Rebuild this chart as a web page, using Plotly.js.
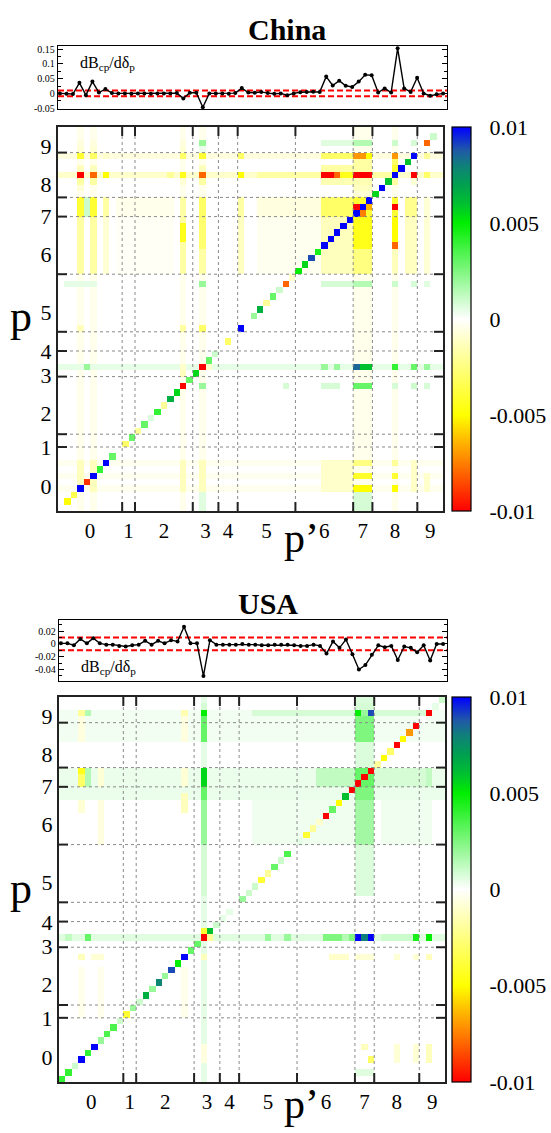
<!DOCTYPE html>
<html><head><meta charset="utf-8">
<script src="https://cdn.plot.ly/plotly-3.0.1.min.js"></script>
<style>html,body{margin:0;padding:0;background:#fff}#chart{width:551px;height:1133px}</style>
</head><body><div id="chart"></div>
<script>
// ---------------- data ----------------
const N_PRODUCTS = 60;
const categoryLabels = ['0','1','2','3','4','5','6','7','8','9'];
const categoryBoundaries = [10,12,21,25,28,37,46,49,56];
const xLabelPos = [4.5,10.5,16,22.5,26,32,41,47,52,57.5];
const yLabelPos = [3.3,9.5,14.7,20.7,24.4,30.6,39.6,45.6,50.6,56.5];
const colorbarTicks = [-0.01,-0.005,0,0.005,0.01];
const colorbarTickText = ['-0.01','-0.005','0','0.005','0.01'];
const colorbarDashes = [-0.005,0,0.005];
const sensitivityBand = [0.01,-0.01];

const chinaLineTicks = [-0.05,0,0.05,0.1,0.15];
const chinaLineTickText = ['-0.05','0','0.05','0.1','0.15'];
const usaLineTicks = [-0.04,-0.02,0,0.02];
const usaLineTickText = ['-0.04','-0.02','0','0.02'];

const chinaLine = [
 0.000,-0.001,-0.002, 0.036,-0.006, 0.040, 0.003, 0.015, 0.001, 0.000,
 0.000,-0.001, 0.000, 0.000,-0.001, 0.000, 0.000, 0.000, 0.001,-0.017,
 0.002, 0.002,-0.047, 0.000, 0.000, 0.000,-0.001, 0.001, 0.018, 0.003,
 0.002, 0.005, 0.001,-0.001, 0.000,-0.006, 0.000, 0.004, 0.005, 0.006,
 0.005, 0.057, 0.027, 0.043, 0.026, 0.022, 0.040, 0.063, 0.062, 0.003,
 0.017, 0.003, 0.153, 0.017, 0.005, 0.053, 0.000,-0.008,-0.003, 0.000];

const usaLine = [
 0.001, 0.001,-0.002, 0.008, 0.001, 0.009, 0.001,-0.001,-0.001,-0.003,
-0.004,-0.002,-0.001, 0.005,-0.001, 0.005, 0.001, 0.006, 0.004, 0.027,
 0.001, 0.001,-0.050, 0.006,-0.001,-0.001,-0.001,-0.001, 0.000,-0.001,
-0.001,-0.002,-0.002,-0.001,-0.001,-0.001,-0.002,-0.003,-0.003,-0.001,
-0.003,-0.015, 0.004,-0.006, 0.007,-0.016,-0.040,-0.033,-0.017,-0.002,
-0.005,-0.003,-0.025,-0.004,-0.006,-0.013,-0.002,-0.026, 0.000, 0.000];

const chinaDiag = [
 0,-0.005,-0.0035,0.01,-0.009,0.01,0.004,0.01,0.003,0,
 -0.003,0.003,-0.002,0.003,0.0007,0.004,-0.002,0.0065,0.0055,-0.01,
 0.003,0.0055,-0.01,0.003,0.001,0,-0.003,0,0.01,0,
 0.002,0.0065,-0.002,0.003,0.001,-0.008,-0.001,0.005,0.0055,0.009,
 0.0045,0.01,0.01,0.01,0.01,0.01,0.01,0.01,0.01,0.0055,
 0.01,0.006,0.01,0.01,0.006,0.01,0,-0.008,0.001,0];

const usaDiag = [
 0.004,0.004,0.001,0.01,0.004,0.01,0.002,0.0035,0.0035,0.001,
 -0.004,0.002,0.001,0.0065,0.002,0.0078,0.002,0.009,0.005,0.01,
 0.003,0.003,-0.01,0.006,0.001,0.0005,0.0005,0,0.002,0.001,
 0.001,-0.004,-0.002,0.003,0.001,0.0035,0,0.0005,-0.004,-0.002,
 -0.001,-0.01,0.003,-0.005,0.006,-0.01,-0.01,-0.01,-0.01,-0.002,
 -0.005,-0.003,-0.01,-0.005,-0.007,-0.01,0,-0.01,0.0005,0.001];

// off-diagonal regions: [rowFrom, rowTo, colFrom, colTo, value]
const chinaBlocks = [
 [0,59,3,3,-0.0004],[0,59,5,5,-0.0004],[0,59,19,19,-0.0004],[0,59,22,22,-0.0004],
 [0,59,46,48,-0.0004],[0,59,52,52,-0.0004],
 [0,2,22,22,0.0006],[0,2,46,48,0.0008],
 [3,3,0,59,-0.0003],[5,5,0,59,-0.0003],[7,7,0,59,-0.0003],
 [3,7,3,3,-0.0013],[3,7,5,5,-0.0013],[3,7,19,19,-0.0013],[3,7,22,22,-0.0013],[3,7,41,45,-0.001],[3,7,55,55,-0.0011],[3,5,57,57,-0.001],
 [3,3,46,48,-0.005],[5,5,46,48,-0.0042],[7,7,46,48,-0.0025],
 [3,3,52,52,-0.005],[5,5,52,52,-0.004],[7,7,52,52,-0.002],
 [19,19,22,22,0.002],[19,19,41,43,0.0008],[19,19,46,48,0.003],[19,19,35,35,0.0008],[19,19,52,52,0.0008],[19,19,55,55,0.001],[19,19,57,57,0.0008],
 [21,21,19,19,-0.0013],
 [22,22,0,59,0.0005],[22,22,4,4,0.002],[22,22,19,19,-0.001],[22,22,23,23,-0.001],[22,22,41,41,0.002],[22,22,43,43,0.002],[22,22,46,46,0.0085],[22,22,47,48,0.006],[22,22,52,52,0.004],[22,22,55,55,0.003],[22,22,57,57,0.002],
 [28,28,3,3,-0.0013],[28,28,19,19,-0.0018],[28,28,22,22,-0.003],
 [35,35,1,5,0.0005],[35,35,22,22,0.002],[35,35,41,45,0.0008],[35,35,46,48,0.0015],[35,35,52,52,0.001],[35,35,55,55,0.0008],[35,35,57,57,0.0006],
 [37,45,3,3,-0.0018],[37,45,5,5,-0.0018],[37,45,7,7,-0.0008],[37,45,9,17,-0.0002],[37,45,19,19,-0.0018],[37,45,22,22,-0.0018],[37,45,28,28,-0.0012],[37,45,31,40,-0.0003],[37,45,41,45,-0.0013],[37,45,46,48,-0.0025],[37,45,52,52,-0.0013],[37,45,54,55,-0.0012],[37,45,57,57,-0.0008],
 [42,44,19,19,-0.0045],[41,45,46,48,-0.0045],[42,45,52,52,-0.005],[41,41,52,52,-0.008],[41,45,22,22,-0.0028],
 [46,48,3,3,-0.004],[46,48,4,4,0.001],[46,48,5,5,-0.004],[46,48,7,7,-0.0018],[46,48,9,17,-0.0004],[46,48,19,19,-0.0018],[46,48,22,22,-0.003],[46,48,28,28,-0.0018],[46,48,31,40,-0.0006],[46,48,41,45,-0.003],[46,48,46,48,-0.004],[46,48,52,52,-0.004],[46,48,54,55,-0.0022],[46,48,57,57,-0.0008],
 [47,47,46,46,-0.01],[46,46,47,47,-0.0075],[47,47,48,48,-0.0065],[47,47,52,52,-0.01],
 [49,49,46,48,-0.0008],[50,50,46,48,-0.0012],[50,50,3,3,-0.0008],
 [51,51,3,3,-0.0018],[51,51,5,5,-0.0018],[51,51,19,19,-0.0008],[51,51,22,22,-0.0018],[51,51,41,48,-0.0015],[51,51,52,52,-0.0018],[51,51,55,55,-0.0008],
 [52,52,0,59,-0.001],[52,52,3,3,-0.01],[52,52,5,5,-0.008],[52,52,7,7,-0.005],[52,52,17,17,-0.002],[52,52,19,19,-0.0045],[52,52,22,22,-0.008],[52,52,28,28,-0.005],[52,52,31,40,-0.0018],[52,52,41,42,-0.01],[52,52,43,43,-0.008],[52,52,44,45,-0.0045],[52,52,46,48,-0.01],[52,52,49,51,-0.0018],[52,52,55,55,-0.01],[52,52,57,57,-0.003],
 [53,53,3,3,-0.0013],[53,53,5,5,-0.0013],[53,53,22,22,-0.0013],[53,53,41,48,-0.0018],[53,53,52,52,-0.004],
 [54,54,46,48,-0.0018],[54,54,52,52,-0.003],
 [55,55,0,59,-0.0006],[55,55,3,3,-0.004],[55,55,5,5,-0.003],[55,55,7,7,-0.001],[55,55,19,19,-0.003],[55,55,22,22,-0.004],[55,55,28,28,-0.003],[55,55,41,45,-0.003],[55,55,46,47,-0.007],[55,55,48,48,-0.005],[55,55,52,52,-0.007],[55,55,57,57,-0.002],
 [56,56,3,3,-0.0008],[56,56,5,5,-0.0008],[56,56,19,19,-0.0008],[56,56,22,22,0.0004],
 [57,57,3,3,-0.0006],[57,57,5,5,-0.0006],[57,57,19,19,-0.0006],[57,57,22,22,0.002],[57,57,41,45,0.0006],[57,57,46,48,0.0015],[57,57,52,52,0.001],[57,57,55,55,0.0008]
];

const usaBlocks = [
 [0,59,22,22,0.0005],[29,59,46,48,0.0007],[53,57,0,59,0.00025],[44,48,0,59,0.0004],
 [57,57,3,3,-0.002],[57,57,4,4,0.0015],[57,57,19,19,-0.0015],[57,57,22,22,0.005],[57,57,30,45,0.0008],[57,57,46,46,0.005],[57,57,47,47,0.002],[57,57,48,48,0.009],[57,57,49,56,0.0008],
 [53,56,22,22,0.003],[53,56,46,48,0.0025],[53,56,3,3,-0.0006],[53,56,19,19,-0.0006],
 [58,58,22,22,0.0008],[58,58,46,48,0.0008],
 [46,48,3,3,-0.003],[48,48,3,3,-0.0045],[46,48,4,4,0.0015],[46,48,6,6,-0.0008],[46,48,19,19,-0.0008],[46,48,22,22,0.0055],[46,48,40,45,0.0012],[46,48,46,48,0.003],[46,48,49,56,0.0008],[46,48,57,57,0.0012],
 [44,45,22,22,0.003],[44,45,46,48,0.0025],
 [37,43,22,22,0.002],[37,43,46,48,0.0018],[37,43,30,45,0.0003],[37,43,50,57,0.0003],[42,44,19,19,-0.0013],[42,43,3,3,-0.0008],[37,43,6,6,-0.0006],
 [29,36,22,22,0.0008],
 [22,22,0,59,0.0006],[22,22,1,1,0.0012],[22,22,4,4,0.003],[22,22,23,23,-0.002],[22,22,32,32,0.002],[22,22,35,35,0.002],[22,22,41,43,0.0025],[22,22,44,44,0.0015],[22,22,45,45,0.0025],[22,22,46,46,0.01],[22,22,47,47,0.008],[22,22,48,48,0.01],[22,22,50,54,0.001],[22,22,55,55,0.0045],[22,22,57,57,0.005],
 [23,23,22,22,-0.004],
 [19,19,3,3,-0.0013],[19,19,5,6,-0.0008],[19,19,19,19,-0.0008],[19,19,22,22,-0.0013],[19,19,42,44,-0.001],[19,19,46,48,-0.0008],[19,19,52,52,-0.0008],[19,19,55,55,-0.0008],[19,19,57,57,-0.0013],
 [10,17,3,3,-0.0004],[10,17,6,6,-0.0004],[10,17,19,19,-0.0004],
 [3,5,22,22,-0.0006],[5,5,47,47,-0.0013],[3,3,48,48,-0.003],[3,5,52,52,-0.0008],[3,5,55,55,-0.0008],[3,5,57,57,-0.0013],
 [1,1,46,48,0.0006]
];

// ---------------- build ----------------
const W = 551, H = 1133;
const FONT = 'Liberation Serif, Times New Roman, serif';
const fx = p => p / W;
const fy = p => 1 - p / H;
const productIdx = Array.from({length: N_PRODUCTS}, (_, i) => i);

function buildMatrix(diag, blocks) {
  const z = productIdx.map(() => new Array(N_PRODUCTS).fill(0));
  blocks.forEach(([r0, r1, c0, c1, v]) => {
    for (let r = r0; r <= r1; r++) for (let c = c0; c <= c1; c++) z[r][c] = v;
  });
  diag.forEach((v, i) => { z[i][i] = v; });
  return z;
}

const colorscale = [
  [0, '#ff0000'], [0.12, '#ff7a00'], [0.19, '#ffc000'], [0.25, '#ffff00'],
  [0.5, '#ffffff'],
  [0.75, '#00ee00'], [0.8, '#00c030'], [0.85, '#00a050'], [0.9, '#10807a'],
  [0.94, '#2058a8'], [1, '#0000ff']
];

const panels = [
  {title: 'China', titleX: 287, titleY: 29, line: chinaLine, diag: chinaDiag, blocks: chinaBlocks,
   lineL: 58, lineR: 447, lineT: 46, lineB: 109, yRange: [-0.053, 0.161],
   yTicks: chinaLineTicks, yTickText: chinaLineTickText, yMinor: 0.025,
   annY: 63, heatL: 58, heatR: 443, heatT: 127, heatB: 511,
   pY: 316, pxY: 538},
  {title: 'USA', titleX: 268, titleY: 603, line: usaLine, diag: usaDiag, blocks: usaBlocks,
   lineL: 59, lineR: 447, lineT: 620, lineB: 681, yRange: [-0.058, 0.0376],
   yTicks: usaLineTicks, yTickText: usaLineTickText, yMinor: 0.01,
   annY: 667, heatL: 59, heatR: 445, heatT: 697, heatB: 1082,
   pY: 888, pxY: 1104}
];

const traces = [];
const layout = {
  width: W, height: H, margin: {l: 0, r: 0, t: 0, b: 0},
  paper_bgcolor: '#fff', plot_bgcolor: '#fff', showlegend: false,
  font: {family: FONT, color: '#000'},
  shapes: [], annotations: []
};

panels.forEach((P, k) => {
  const lx = k === 0 ? '' : '3';
  const hx = k === 0 ? '2' : '4';
  traces.push({
    type: 'scatter', mode: 'lines+markers', x: productIdx, y: P.line,
    xaxis: 'x' + lx, yaxis: 'y' + lx,
    line: {color: '#000', width: 1.4}, marker: {color: '#000', size: 4},
    hoverinfo: 'skip'
  });
  layout['xaxis' + lx] = {
    domain: [fx(P.lineL), fx(P.lineR)], anchor: 'y' + lx, range: [-0.3, 59.6],
    showticklabels: false, ticks: '', showline: true, mirror: true,
    linecolor: '#000', linewidth: 1.2, showgrid: false, zeroline: false
  };
  layout['yaxis' + lx] = {
    domain: [fy(P.lineB), fy(P.lineT)], anchor: 'x' + lx, range: P.yRange,
    tickvals: P.yTicks, ticktext: P.yTickText, ticks: 'inside', ticklen: 5,
    tickwidth: 1, tickcolor: '#000', showline: true, mirror: 'ticks',
    linecolor: '#000', linewidth: 1.2, showgrid: false, zeroline: false,
    minor: {ticks: 'inside', ticklen: 3, dtick: P.yMinor, tick0: 0, tickcolor: '#000'},
    tickfont: {family: FONT, size: 10, color: '#000'}
  };
  sensitivityBand.forEach(v => layout.shapes.push({
    type: 'line', xref: 'x' + lx + ' domain', yref: 'y' + lx, x0: 0, x1: 1, y0: v, y1: v,
    line: {color: '#ff0000', width: 2, dash: '6px,3px'}, layer: 'below'
  }));
  layout.annotations.push({
    xref: 'paper', yref: 'paper', x: fx(P.lineL + 20), y: fy(P.annY), xanchor: 'left', yanchor: 'middle',
    text: 'dB<sub>cp</sub>/dδ<sub>p</sub>', showarrow: false, font: {family: FONT, size: 16, color: '#000'}
  });

  const cbTop = P.heatT, cbLen = P.heatB - P.heatT;
  traces.push({
    type: 'heatmap', x: productIdx, y: productIdx, z: buildMatrix(P.diag, P.blocks),
    xaxis: 'x' + hx, yaxis: 'y' + hx, zmin: -0.01, zmax: 0.01, colorscale: colorscale,
    hoverinfo: 'skip',
    colorbar: {
      x: fx(452), xanchor: 'left', y: fy(cbTop), yanchor: 'top',
      len: cbLen / H, lenmode: 'fraction', thickness: 19, thicknessmode: 'pixels',
      outlinewidth: 1.2, outlinecolor: '#000', xpad: 0, ypad: 0,
      tickvals: colorbarTicks, ticktext: colorbarTickText,
      ticks: 'outside', ticklen: 14, tickcolor: 'rgba(0,0,0,0)',
      tickfont: {family: FONT, size: 22, color: '#000'}
    }
  });
  layout['xaxis' + hx] = {
    domain: [fx(P.heatL), fx(P.heatR)], anchor: 'y' + hx, range: [-0.5, 59.5],
    tickvals: xLabelPos, ticktext: categoryLabels, ticks: '', showline: true, mirror: true,
    linecolor: '#222', linewidth: 2, showgrid: false, zeroline: false,
    tickfont: {family: FONT, size: 21, color: '#000'}
  };
  layout['yaxis' + hx] = {
    domain: [fy(P.heatB), fy(P.heatT)], anchor: 'x' + hx, range: [-0.5, 59.5],
    tickvals: yLabelPos, ticktext: categoryLabels, ticks: '', showline: true, mirror: true,
    linecolor: '#222', linewidth: 2, showgrid: false, zeroline: false,
    tickfont: {family: FONT, size: 22, color: '#000'}
  };
  const tickFracX = 9 / (P.heatB - P.heatT);
  const tickFracY = 9 / (P.heatR - P.heatL);
  categoryBoundaries.forEach(b => {
    const pos = b - 0.5;
    const dot = {color: '#8a8a8a', width: 1, dash: 'dot'};
    layout.shapes.push({type: 'line', xref: 'x' + hx, yref: 'y' + hx + ' domain', x0: pos, x1: pos, y0: 0, y1: 1, line: dot, layer: 'above'});
    layout.shapes.push({type: 'line', yref: 'y' + hx, xref: 'x' + hx + ' domain', y0: pos, y1: pos, x0: 0, x1: 1, line: dot, layer: 'above'});
    const tk = {color: '#222', width: 2};
    layout.shapes.push({type: 'line', xref: 'x' + hx, yref: 'y' + hx + ' domain', x0: pos, x1: pos, y0: 0, y1: tickFracX, line: tk});
    layout.shapes.push({type: 'line', xref: 'x' + hx, yref: 'y' + hx + ' domain', x0: pos, x1: pos, y0: 1 - tickFracX, y1: 1, line: tk});
    layout.shapes.push({type: 'line', yref: 'y' + hx, xref: 'x' + hx + ' domain', y0: pos, y1: pos, x0: 0, x1: tickFracY, line: tk});
    layout.shapes.push({type: 'line', yref: 'y' + hx, xref: 'x' + hx + ' domain', y0: pos, y1: pos, x0: 1 - tickFracY, x1: 1, line: tk});
  });
  colorbarDashes.forEach(v => {
    const ypx = cbTop + (0.01 - v) / 0.02 * cbLen;
    layout.shapes.push({type: 'line', xref: 'paper', yref: 'paper', x0: fx(452), x1: fx(471), y0: fy(ypx), y1: fy(ypx),
      line: {color: '#000', width: 1, dash: '6px,7px'}});
  });
  layout.annotations.push({xref: 'paper', yref: 'paper', x: fx(P.titleX), y: fy(P.titleY), xanchor: 'center', yanchor: 'middle',
    text: '<b>' + P.title + '</b>', showarrow: false, font: {family: FONT, size: 30, color: '#000'}});
  layout.annotations.push({xref: 'paper', yref: 'paper', x: fx(21), y: fy(P.pY), xanchor: 'center', yanchor: 'middle',
    text: 'p', showarrow: false, font: {family: FONT, size: 44, color: '#000'}});
  layout.annotations.push({xref: 'paper', yref: 'paper', x: fx(301), y: fy(P.pxY), xanchor: 'center', yanchor: 'middle',
    text: 'p’', showarrow: false, font: {family: FONT, size: 42, color: '#000'}});
});

Plotly.newPlot('chart', traces, layout, {staticPlot: true, displayModeBar: false});
</script>
</body></html>
